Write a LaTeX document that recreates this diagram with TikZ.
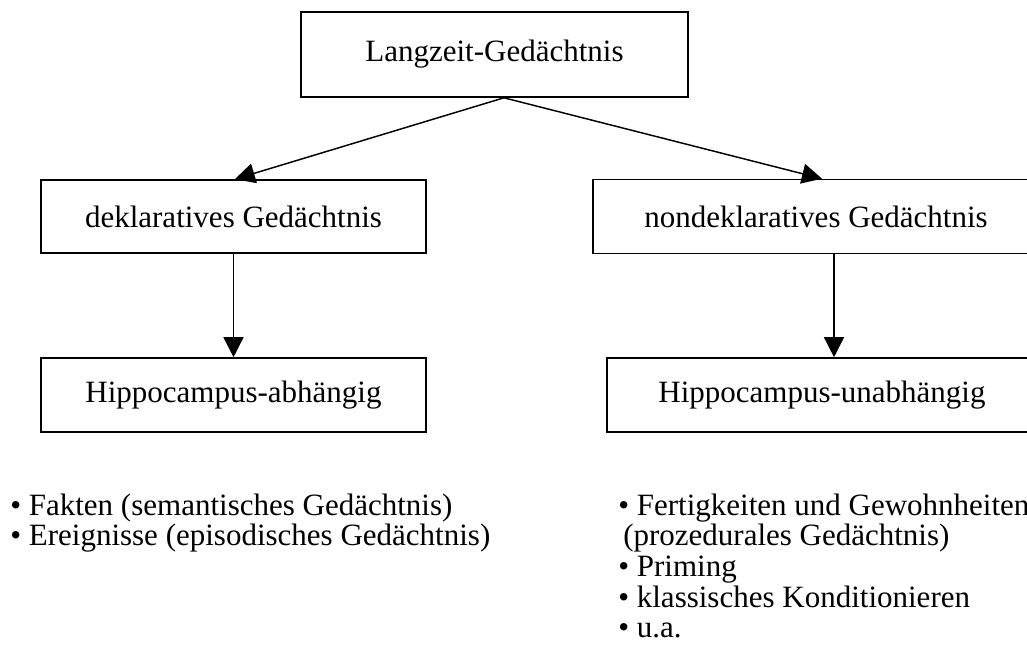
\documentclass[tikz,border=0pt]{standalone}
\usepackage{fontspec}
\setmainfont{Liberation Serif}
\usepackage{tikz}
\usetikzlibrary{arrows.meta,positioning}
\tikzset{
  memobox/.style={draw,rectangle,line width=1.2pt,inner sep=0pt,font=\fontsize{23.25}{23}\selectfont},
  pfeil/.style={-{Triangle[length=15pt,width=15pt]},line width=1.1pt},
  liste/.style={align=left,inner sep=0pt,font=\fontsize{23.25}{23}\selectfont}
}

\begin{document}
\begin{tikzpicture}[x=0.75pt,y=-0.75pt]
        \clip (0,0) rectangle (1027,663);
        \node[memobox,minimum width=290.25pt,minimum height=63.75pt] (lz) at (494.5,54.5) {Langzeit-Gedächtnis};
        \node[memobox,minimum width=288.75pt,minimum height=54.75pt] (dekl) at (233.5,216.5) {deklaratives Gedächtnis};
        \node[memobox,minimum width=334.5pt,minimum height=55.5pt] (nondekl) at (816,216.5) {nondeklaratives Gedächtnis};
        \node[memobox,minimum width=288.75pt,minimum height=55.5pt] (hipab) at (233.5,395) {Hippocampus-abhängig};
        \node[memobox,minimum width=322.5pt,minimum height=55.5pt] (hipunab) at (822,395) {Hippocampus-unabhängig};
        \draw[pfeil] ([xshift=7.1pt]lz.south) -- ([xshift=1pt]dekl.north);
        \draw[pfeil] ([xshift=7.1pt]lz.south) -- ([xshift=4.5pt]nondekl.north);
        \draw[pfeil] (dekl.south) -- (hipab.north);
        \draw[pfeil] ([xshift=13.5pt]nondekl.south) -- ([xshift=13.5pt]nondekl.south |- hipunab.north);
        % base = Grundlinie der letzten Zeile
        \node[liste,anchor=base west] (listl) at (10,545.7) {\textbullet{} Fakten (semantisches Gedächtnis)\\\textbullet{} Ereignisse (episodisches Gedächtnis)};
        \node[liste,anchor=base west] (listr) at (618,637.8) {\textbullet{} Fertigkeiten und Gewohnheiten\\\hspace*{3.75pt}(prozedurales Gedächtnis)\\\textbullet{} Priming\\\textbullet{} klassisches Konditionieren\\\textbullet{} u.a.};
      \end{tikzpicture}
\end{document}
